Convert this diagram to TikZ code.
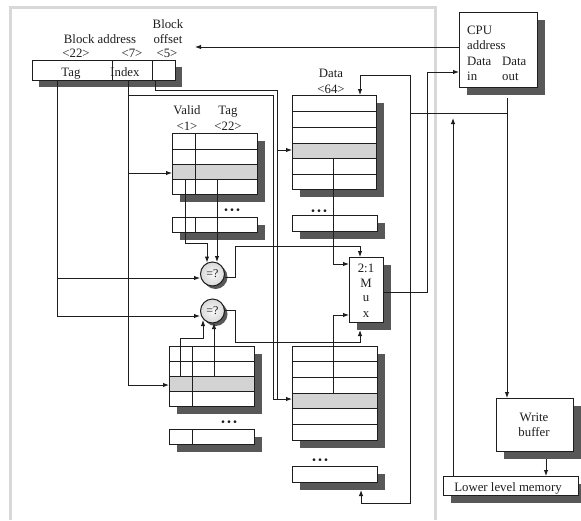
\documentclass[tikz,border=0pt]{standalone}
\usepackage{fontspec}
\setmainfont{Liberation Serif}
\usetikzlibrary{arrows.meta}
\definecolor{shd}{RGB}{88,88,88}
\definecolor{rowc}{RGB}{211,211,211}
\definecolor{framec}{RGB}{216,216,216}
\definecolor{inkc}{RGB}{30,30,30}
\newcommand\SBox[6]{% name, x, y, w, h, shadow offset
  \fill[shd] ({#2+#6},{#3+#6}) rectangle ({#2+#4+#6},{#3+#5+#6});
  \node[box,anchor=north west,minimum width=#4pt,minimum height=#5pt] (#1) at (#2,#3) {};
}
\begin{document}
\begin{tikzpicture}[x=1pt,y=-1pt,
  ln/.style={draw=inkc,line width=1pt},
  arr/.style={ln,-{Latex[length=6pt,width=4.5pt]}},
  box/.style={draw=inkc,fill=white,line width=1pt,inner sep=0pt,outer sep=0pt},
  lbl/.style={inner sep=0pt,text height=8.5pt,text depth=0pt,font=\fontsize{12.8}{14}\selectfont,text=inkc},
  dots/.style={inner sep=0pt,font=\fontsize{10}{10}\selectfont\bfseries,text=inkc},
  cmp/.style={circle,draw=inkc,inner color=gray!5,outer color=gray!30,line width=1pt,minimum size=24pt,inner sep=0pt,font=\fontsize{12}{14}\selectfont,text=inkc}]
\useasboundingbox (0,0) rectangle (581,520);
\fill[white] (0,0) rectangle (581,520);
% frame
\draw[framec,line width=3pt] (10.5,520) -- (10.5,7.5) -- (435.5,7.5) -- (435.5,520);

% ---------- address ----------
\SBox{addr}{32}{60}{143}{20}{7}
\draw[ln] (112,60) -- (112,80) (152,60) -- (152,80);
\node[lbl] (lTag) at (71,72) {Tag};
\node[lbl] (lIndex) at (125,72) {Index};
\node[lbl] (lBlk) at (168,24) {Block};
\node[lbl] (lOff) at (168,39) {offset};
\node[lbl] (lBA) at (100,39) {Block address};
\node[lbl] (l22) at (76,53) {<22>};
\node[lbl] (l7) at (132,53) {<7>};
\node[lbl] (l5) at (167,53) {<5>};

% ---------- CPU ----------
\SBox{cpu}{459}{12}{78}{75}{8}
\node[lbl,anchor=west] (lcpu) at (467,30) {CPU};
\node[lbl,anchor=west] (ladr) at (467,45) {address};
\node[lbl,anchor=west] (ldi1) at (467,61) {Data};
\node[lbl,anchor=west] (ldi2) at (467,76) {in};
\node[lbl,anchor=west] (ldo1) at (502,61) {Data};
\node[lbl,anchor=west] (ldo2) at (502,76) {out};

% ---------- upper tag array ----------
\node[lbl] (lValid) at (187,110) {Valid};
\node[lbl] (lv1) at (187,126) {<1>};
\node[lbl] (lTag2) at (228,110) {Tag};
\node[lbl] (lt22) at (228,126) {<22>};
\SBox{tagU}{172}{133}{85}{61}{8}
\fill[rowc] (172,164) rectangle (257,179);
\draw[ln] (172,149) -- (257,149) (172,164) -- (257,164) (172,179) -- (257,179) (195,133) -- (195,194);
\draw[ln] (172,133) rectangle (257,194);
\node[dots] (dtU) at (232,211) {• • •};
\SBox{tagUs}{172}{217}{85}{15}{8}
\draw[ln] (195,217) -- (195,232);

% ---------- lower tag array ----------
\SBox{tagL}{169}{346}{85}{60}{8}
\fill[rowc] (169,376) rectangle (254,391);
\draw[ln] (169,361) -- (254,361) (169,376) -- (254,376) (169,391) -- (254,391) (192,346) -- (192,406);
\draw[ln] (169,346) rectangle (254,406);
\node[dots] (dtL) at (229,423) {• • •};
\SBox{tagLs}{169}{429}{85}{15}{8}
\draw[ln] (192,429) -- (192,444);

% ---------- upper data array ----------
\node[lbl] (lData) at (331,73) {Data};
\node[lbl] (l64) at (331,89) {<64>};
\SBox{dataU}{292}{95}{84}{94}{8}
\fill[rowc] (292,143) rectangle (376,158);
\draw[ln] (292,111) -- (376,111) (292,127) -- (376,127) (292,143) -- (376,143) (292,158) -- (376,158) (292,174) -- (376,174);
\draw[ln] (292,95) rectangle (376,189);
\node[dots] (ddU) at (319,212) {• • •};
\SBox{dataUs}{292}{215}{85}{16}{8}

% ---------- lower data array ----------
\SBox{dataL}{292}{346}{85}{94}{8}
\fill[rowc] (292,393) rectangle (377,408);
\draw[ln] (292,361) -- (377,361) (292,377) -- (377,377) (292,393) -- (377,393) (292,408) -- (377,408) (292,424) -- (377,424);
\draw[ln] (292,346) rectangle (377,440);
\node[dots] (ddL) at (320,461) {• • •};
\SBox{dataLs}{292}{466}{85}{16}{8}

% ---------- mux ----------
\SBox{mux}{349}{257}{34}{65}{8}
\node[lbl] (m1) at (366,268) {2:1};
\node[lbl] (m2) at (366,283) {M};
\node[lbl] (m3) at (366,297) {u};
\node[lbl] (m4) at (366,313) {x};

% ---------- comparators ----------
\fill[shd] (215.5,277) circle (12pt);
\node[cmp] (cmpU) at (212.5,274) {=?};
\fill[shd] (215.5,314) circle (12pt);
\node[cmp] (cmpL) at (212.5,311) {=?};

% ---------- write buffer & memory ----------
\SBox{wb}{496}{398}{77}{53}{8}
\node[lbl] (lw1) at (534,417) {Write};
\node[lbl] (lw2) at (534,432) {buffer};
\SBox{mem}{443}{476}{135}{19}{8}
\node[lbl] (lmem) at (508,487) {Lower level memory};

% ---------- named points ----------
\coordinate (cpuA) at (459,47);
\coordinate (addrIn) at (195,47);
\coordinate (tagOut) at (57,80);
\coordinate (tagJ) at (57,278);
\coordinate (tagB) at (57,316);
\coordinate (cmpUin) at (200,278);
\coordinate (cmpLin) at (200,316);
\coordinate (idxOut) at (128,80);
\coordinate (idxJ1) at (128,95);
\coordinate (idxJ2) at (128,173);
\coordinate (idxB) at (128,385);
\coordinate (offOut) at (155,80);
\coordinate (offJ) at (277,150);

% ---------- connectors ----------
\draw[arr] (cpuA) -- (addrIn);
% tag field
\draw[arr] (tagOut) -- (tagB) -- (cmpLin);
\draw[arr] (tagJ) -- (cmpUin);
% index field
\draw[arr] (idxOut) -- (idxB) -- (tagL.west |- idxB);
\draw[arr] (idxJ2) -- (tagU.west |- idxJ2);
\draw[arr] (idxJ1) -- (273,95) -- (273,399) -- (dataL.west |- 0,399);
% offset field
\draw[ln] (offOut) -- (155,90) -- (277,90) -- (277,399);
\draw[arr] (offJ) -- (dataU.west |- offJ);
% tag array outputs to comparators
\draw[arr] (185,179) -- (185,243) -- (207,243) -- (207,262.5);
\draw[arr] (217,179) -- (217,262);
\draw[arr] (180,376) -- (180,338) -- (203,338) -- (203,320);
\draw[arr] (214,376) -- (214,323);
% comparator outputs to mux
\draw[arr] (cmpU.east |- 0,277) -- (235,277) -- (235,246) -- (360,246) -- (mux.north -| 360,0);
\draw[arr] (cmpL.east |- 0,310) -- (235,310) -- (235,342) -- (360,342) -- (360,330);
% data arrays to mux
\draw[arr] (333,158) -- (333,264) -- (mux.west |- 0,264);
\draw[arr] (333,393) -- (333,315) -- (mux.west |- 0,315);
% mux to CPU data in
\draw[arr] (mux.east |- 0,292) -- (427,292) -- (427,72) -- (cpu.west |- 0,72);
% CPU data out
\coordinate (dj) at (410,113);
\coordinate (doJ) at (507,113);
\draw[arr] (507,98) -- (wb.north -| 507,0);
\draw[ln] (doJ) -- (dj);
\draw[arr] (dj) -- (410,75) -- (360,75) -- (dataU.north -| 360,0);
\draw[arr] (dj) -- (410,503) -- (361,503) -- (361,490);
% memory path
\draw[arr] (mem.north -| 453,0) -- (453,118);
\draw[arr] (546,459) -- (mem.north -| 546,0);
\end{tikzpicture}
\end{document}
